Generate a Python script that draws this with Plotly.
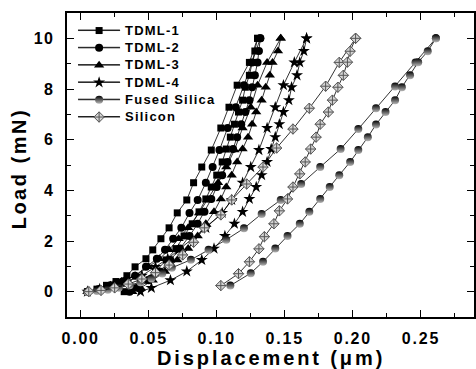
import plotly.graph_objects as go

# ---- data (displacement in um, load in mN) ----
load_up = [0.00, 0.10, 0.25, 0.40, 0.63, 0.98, 1.30, 1.65, 2.09, 2.52, 3.11, 3.62, 4.30, 4.92, 5.59, 6.46, 7.28, 8.15, 9.05, 10.0]
load_down = [10.0, 9.50, 9.05, 8.54, 8.07, 7.56, 7.09, 6.61, 6.10, 5.63, 5.12, 4.60, 4.13, 3.66, 3.15, 2.68, 2.20, 1.70, 1.25, 0.80, 0.45, 0.15, 0.00]

tdml1_up = [0.005, 0.012, 0.019, 0.026, 0.034, 0.040, 0.048, 0.053, 0.059, 0.065, 0.071, 0.078, 0.083, 0.089, 0.096, 0.103, 0.109, 0.115, 0.124, 0.130]
tdml1_down = [0.130, 0.128, 0.126, 0.124, 0.121, 0.119, 0.116, 0.113, 0.110, 0.107, 0.104, 0.100, 0.096, 0.092, 0.087, 0.082, 0.076, 0.070, 0.063, 0.055, 0.047, 0.038, 0.032]

tdml2_up = [0.005, 0.013, 0.022, 0.031, 0.040, 0.048, 0.056, 0.062, 0.068, 0.074, 0.080, 0.086, 0.092, 0.097, 0.102, 0.108, 0.114, 0.120, 0.126, 0.132]
tdml2_down = [0.132, 0.131, 0.130, 0.128, 0.126, 0.124, 0.121, 0.118, 0.115, 0.112, 0.108, 0.104, 0.100, 0.096, 0.091, 0.086, 0.080, 0.073, 0.066, 0.058, 0.050, 0.042, 0.036]

tdml3_up = [0.005, 0.013, 0.022, 0.030, 0.040, 0.050, 0.058, 0.065, 0.072, 0.079, 0.087, 0.093, 0.101, 0.107, 0.113, 0.119, 0.125, 0.130, 0.137, 0.147]
tdml3_down = [0.147, 0.145, 0.141, 0.139, 0.136, 0.133, 0.129, 0.126, 0.123, 0.119, 0.115, 0.111, 0.107, 0.103, 0.098, 0.092, 0.086, 0.079, 0.071, 0.062, 0.053, 0.044, 0.038]

tdml4_up = [0.005, 0.014, 0.024, 0.034, 0.045, 0.055, 0.064, 0.072, 0.082, 0.092, 0.104, 0.111, 0.119, 0.125, 0.131, 0.137, 0.143, 0.149, 0.157, 0.166]
tdml4_down = [0.166, 0.164, 0.161, 0.159, 0.155, 0.153, 0.149, 0.146, 0.143, 0.140, 0.137, 0.133, 0.129, 0.124, 0.119, 0.113, 0.106, 0.098, 0.089, 0.078, 0.066, 0.052, 0.044]

fs_up_x = [0.005, 0.012, 0.020, 0.028, 0.036, 0.044, 0.052, 0.060, 0.067, 0.081, 0.094, 0.107, 0.120, 0.133, 0.147, 0.162, 0.176, 0.191, 0.204, 0.217, 0.231, 0.246, 0.261]
fs_up_y = [0.00, 0.03, 0.08, 0.15, 0.25, 0.37, 0.52, 0.72, 0.94, 1.26, 1.65, 2.05, 2.50, 3.07, 3.62, 4.25, 4.92, 5.63, 6.42, 7.24, 8.10, 9.05, 10.0]
fs_dn_x = [0.261, 0.255, 0.248, 0.242, 0.236, 0.231, 0.224, 0.217, 0.211, 0.204, 0.198, 0.190, 0.183, 0.176, 0.168, 0.161, 0.152, 0.143, 0.134, 0.125, 0.110]
fs_dn_y = [10.0, 9.49, 9.06, 8.54, 8.07, 7.56, 7.09, 6.60, 6.10, 5.59, 5.12, 4.60, 4.13, 3.66, 3.15, 2.68, 2.20, 1.70, 1.18, 0.73, 0.24]

si_up_x = [0.006, 0.015, 0.025, 0.035, 0.045, 0.055, 0.065, 0.075, 0.083, 0.091, 0.103, 0.111, 0.122, 0.134, 0.144, 0.156, 0.168, 0.180, 0.190, 0.202]
si_up_y = [0.00, 0.05, 0.15, 0.30, 0.50, 0.75, 1.05, 1.45, 1.95, 2.52, 3.03, 3.62, 4.25, 4.92, 5.67, 6.42, 7.24, 8.11, 9.05, 10.0]
si_dn_x = [0.202, 0.198, 0.196, 0.193, 0.189, 0.185, 0.182, 0.176, 0.173, 0.169, 0.165, 0.161, 0.156, 0.152, 0.146, 0.142, 0.135, 0.131, 0.124, 0.116, 0.103]
si_dn_y = [10.0, 9.49, 9.06, 8.54, 8.07, 7.56, 7.09, 6.61, 6.10, 5.63, 5.12, 4.65, 4.13, 3.66, 3.19, 2.68, 2.17, 1.69, 1.18, 0.71, 0.24]

names = ["TDML-1", "TDML-2", "TDML-3", "TDML-4", "Fused Silica", "Silicon"]

FONT = "Liberation Sans, Arial, sans-serif"

def sp(t, ls, size=None):
    extra = "" if size is None else "font-size:%spx;" % size
    return "<span style='%sletter-spacing:%spx'>%s</span>" % (extra, ls, t)

fig = go.Figure()

line_style = dict(color="black", width=0.8)

styles = [
    dict(symbol="square", size=7, color="black"),
    dict(symbol="circle", size=8, color="black"),
    dict(symbol="triangle-up", size=9, color="black"),
    dict(symbol="star", size=9, color="black"),
    dict(symbol="circle", size=8, color="black", gradient=dict(type="vertical", color="#b8b8b8")),
    dict(symbol="diamond-cross", size=8, color="#d4d4d4", line=dict(color="#555555", width=1)),
]

series = [
    (tdml1_up, load_up, tdml1_down, load_down),
    (tdml2_up, load_up, tdml2_down, load_down),
    (tdml3_up, load_up, tdml3_down, load_down),
    (tdml4_up, load_up, tdml4_down, load_down),
    (fs_up_x, fs_up_y, fs_dn_x, fs_dn_y),
    (si_up_x, si_up_y, si_dn_x, si_dn_y),
]

ROW = 17.3  # legend row pitch in px
legend_cfg = {}
for i, (name, st, (xu, yu, xd, yd)) in enumerate(zip(names, styles, series)):
    lg = "legend" if i == 0 else "legend%d" % (i + 1)
    fig.add_trace(go.Scatter(x=xu, y=yu, mode="lines+markers",
                             name=sp(name, 1.2, 13) + "\u00a0\u00a0\u00a0",
                             line=line_style, marker=st, legend=lg))
    fig.add_trace(go.Scatter(x=xd, y=yd, mode="lines+markers", name=name,
                             line=line_style, marker=st, showlegend=False))
    legend_cfg[lg] = dict(x=0.015, y=0.99 - i * ROW / 304, xanchor="left", yanchor="top",
                          bgcolor="rgba(0,0,0,0)", borderwidth=0, itemwidth=42,
                          font=dict(family=FONT, size=11, color="black", weight="bold"))
    # longer legend line sample (Origin style)
    yy = (317 - (30 + ROW * i)) / 304
    fig.add_shape(type="line", xref="paper", yref="paper", layer="below",
                  x0=0.027, x1=0.13, y0=yy, y1=yy,
                  line=dict(color="black", width=0.8))

axis_common = dict(showline=True, linecolor="black", linewidth=1.5, mirror="allticks",
                   ticks="inside", ticklen=7, tickwidth=1.2, tickcolor="black",
                   showgrid=False, zeroline=False,
                   tickfont=dict(family=FONT, size=16, color="black", weight="bold"))

fig.update_xaxes(range=[-0.01, 0.289], tick0=0, dtick=0.05, tickformat=".2f",
                 tickprefix="<span style='letter-spacing:1.8px'>", ticksuffix="</span>",
                 minor=dict(ticks="inside", ticklen=4, dtick=0.025, tickwidth=1.2, tickcolor="black"),
                 ticklabelstandoff=6, **axis_common)
fig.update_yaxes(range=[-1, 11], tick0=0, dtick=2,
                 tickprefix="<span style='letter-spacing:1.2px'>", ticksuffix="</span>",
                 minor=dict(ticks="inside", ticklen=4, dtick=1, tickwidth=1.2, tickcolor="black"),
                 ticklabelstandoff=8, **axis_common)

fig.add_annotation(text=sp("Displacement (\u03bcm)", 2.9), xref="paper", yref="paper",
                   x=0.5, y=-0.135, xanchor="center", yanchor="middle", showarrow=False,
                   font=dict(family=FONT, size=20, color="black", weight="bold"))
fig.add_annotation(text=sp("Load (mN)", 2.5), xref="paper", yref="paper",
                   x=-0.117, y=0.487, xanchor="center", yanchor="middle", showarrow=False,
                   textangle=-90,
                   font=dict(family=FONT, size=20, color="black", weight="bold"))

fig.update_layout(
    width=476, height=369,
    margin=dict(l=67, r=0, t=13, b=52),
    paper_bgcolor="white", plot_bgcolor="white",
    showlegend=True,
    **legend_cfg,
)

fig.write_html("out.html")
